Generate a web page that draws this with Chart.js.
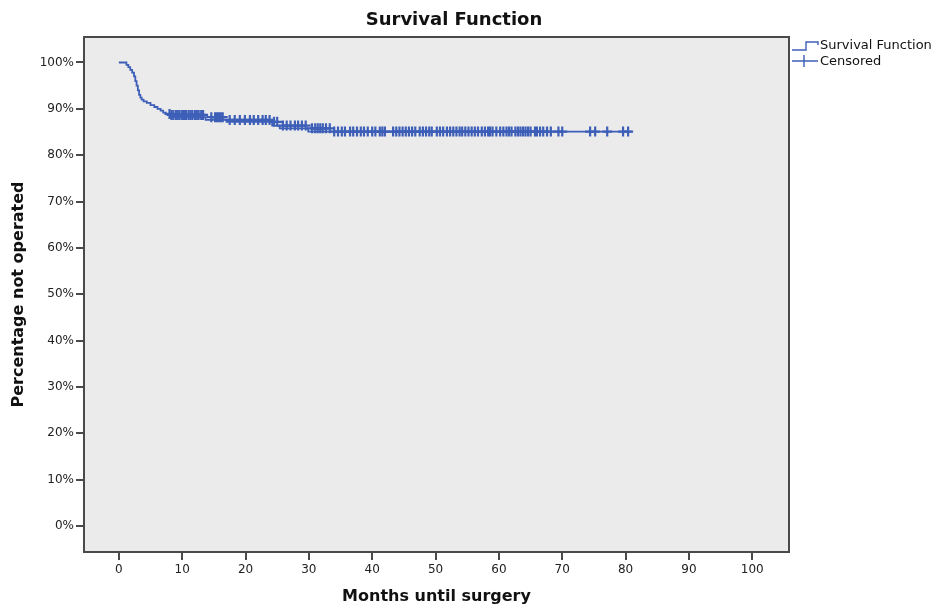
<!DOCTYPE html>
<html>
<head>
<meta charset="utf-8">
<script src="https://cdn.jsdelivr.net/npm/chart.js@4.4.1/dist/chart.umd.min.js"></script>
<style>
  html, body { margin:0; padding:0; background:#fff; }
  #wrap { width:934px; height:609px; position:relative; }
</style>
</head>
<body>
<div id="wrap"><canvas id="survChart"></canvas></div>
<script>
// Kaplan-Meier curve: months and percent not operated (step drops)
let survMonths = [0, 1.2, 1.5, 1.8, 2.1, 2.4, 2.6, 2.8, 3.0, 3.2, 3.4, 3.6, 3.9, 4.4, 5.0, 5.6, 6.1, 6.6, 7.0, 7.4, 7.8, 8.2, 13.7, 17.0, 24.2, 25.4, 29.9, 33.6, 81.0];
let survPct = [100, 100, 99.5, 99, 98.4, 97.8, 97, 96, 95, 94, 93, 92.4, 92, 91.6, 91.3, 90.8, 90.4, 90.0, 89.6, 89.2, 88.9, 88.7, 88.2, 87.6, 87.2, 86.4, 85.8, 85.1, 85.1];

// censored cases (months)
let censorMonths = [8.0,8.3,8.6,9.0,9.3,9.6,10.0,10.3,10.6,11.0,11.3,11.6,12.0,12.3,12.6,13.0,13.3,
  14.6,15.2,15.5,15.8,16.1,16.4,
  17.5,18.3,19.1,19.9,20.7,21.3,22.0,22.7,23.2,23.8,
  24.5,25.0,
  25.9,26.5,27.1,27.8,28.3,28.9,29.5,
  30.5,31.0,31.4,31.8,32.2,32.7,33.3,
  34.0,34.6,35.2,35.7,36.5,37.0,37.6,38.2,38.7,39.3,40.0,40.5,41.2,41.6,42.0,
  43.3,43.8,44.3,44.8,45.3,45.8,46.3,46.8,47.5,48.0,48.5,49.0,49.4,50.2,50.7,51.2,51.8,52.3,52.8,53.3,53.8,54.2,54.7,55.2,55.7,56.2,56.7,
  57.3,57.8,58.3,58.6,59.0,59.6,60.2,60.7,61.2,61.6,62.0,62.6,63.0,63.4,63.8,64.2,64.6,65.0,65.7,66.0,66.5,67.0,67.6,68.2,69.4,70.0,
  74.4,75.2,77.1,79.6,80.4];

let xTicks = [0,10,20,30,40,50,60,70,80,90,100];
let yTicks = [0,10,20,30,40,50,60,70,80,90,100];

let blue = '#3d5fb8';
let frameColor = '#4a4a4a';
let font = 'DejaVu Sans';

// survival value at time t (last step at or before t)
function survAt(t){
    let v = survPct[0];
    for(let i=0;i<survMonths.length;i++){
        if(survMonths[i] <= t) v = survPct[i];
    }
    return v;
}

let curve = [];
for(let i=0;i<survMonths.length;i++){
    curve.push({x:survMonths[i], y:survPct[i]});
}
let censored = [];
for(let i=0;i<censorMonths.length;i++){
    censored.push({x:censorMonths[i], y:survAt(censorMonths[i])});
}

// grey plot box, frame, title and the legend at the right
let spssLook = {
    id:'spssLook',
    beforeDatasetsDraw(chart){
        let c = chart.ctx, a = chart.chartArea;
        c.save();
        c.fillStyle = '#ebebeb';
        c.fillRect(a.left, a.top, a.right-a.left, a.bottom-a.top);
        c.restore();
    },
    afterDraw(chart){
        let c = chart.ctx, a = chart.chartArea;
        c.save();
        c.strokeStyle = frameColor;
        c.lineWidth = 2;
        c.strokeRect(a.left, a.top, a.right-a.left, a.bottom-a.top);

        c.fillStyle = '#111';
        c.font = 'bold 18px "' + font + '"';
        c.textAlign = 'center';
        c.textBaseline = 'middle';
        c.fillText('Survival Function', 454, 20);

        // legend
        c.strokeStyle = blue;
        c.lineWidth = 1.4;
        c.beginPath();
        c.moveTo(792, 50); c.lineTo(806, 50); c.lineTo(806, 42); c.lineTo(818, 42); c.lineTo(818, 45);
        c.stroke();
        c.beginPath();
        c.moveTo(792, 61); c.lineTo(818, 61);
        c.moveTo(804, 55); c.lineTo(804, 67);
        c.stroke();
        c.fillStyle = '#111';
        c.font = '13px "' + font + '"';
        c.textAlign = 'left';
        c.fillText('Survival Function', 820, 46);
        c.fillText('Censored', 820, 62);
        c.restore();
    }
};

let config = {
    type:'scatter',
    data:{
        datasets:[{
            label:'Survival Function',
            data:curve,
            showLine:true,
            stepped:'after',
            borderColor:blue,
            borderWidth:1.8,
            pointRadius:0,
            fill:false
        },{
            label:'Censored',
            data:censored,
            showLine:false,
            pointStyle:'cross',
            pointRadius:5,
            borderColor:blue,
            borderWidth:2.2,
            backgroundColor:blue
        }]
    },
    plugins:[spssLook],
    options:{
        responsive:true,
        maintainAspectRatio:false,
        animation:false,
        layout:{padding:{top:37, right:145, left:0, bottom:0}},
        plugins:{
            legend:{display:false},
            tooltip:{enabled:false}
        },
        scales:{
            x:{
                type:'linear',
                min:-5.5,
                max:105.8,
                afterBuildTicks(scale){ scale.ticks = xTicks.map(v => ({value:v})); },
                afterFit(scale){ scale.height = 57; },
                grid:{drawOnChartArea:false, drawTicks:true, tickLength:8, color:frameColor, lineWidth:2},
                border:{display:false},
                ticks:{color:'#222', font:{family:font, size:12}, padding:3, maxRotation:0},
                title:{display:true, text:'Months until surgery', color:'#111',
                       font:{family:font, size:16, weight:'bold'}, padding:{top:4, bottom:3}}
            },
            y:{
                type:'linear',
                min:-5.6,
                max:105.5,
                afterBuildTicks(scale){ scale.ticks = yTicks.map(v => ({value:v})); },
                afterFit(scale){ scale.width = 84; },
                grid:{drawOnChartArea:false, drawTicks:true, tickLength:8, color:frameColor, lineWidth:2},
                border:{display:false},
                ticks:{color:'#222', font:{family:font, size:12}, padding:2,
                       callback:function(v){ return v + '%'; }},
                title:{display:true, text:'Percentage not operated', color:'#111',
                       font:{family:font, size:16, weight:'bold'}, padding:{top:9, bottom:0}}
            }
        }
    }
};

let survChart = new Chart(document.getElementById('survChart'), config);
</script>
</body>
</html>
